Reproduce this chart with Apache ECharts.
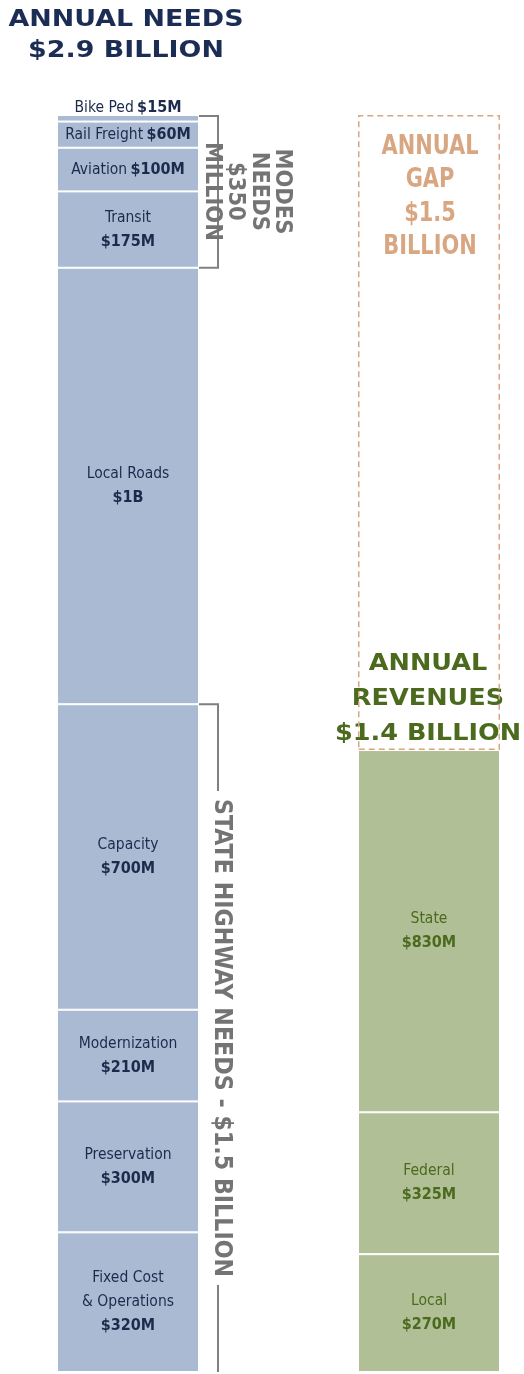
<!DOCTYPE html>
<html>
<head>
<meta charset="utf-8">
<script src="https://cdn.jsdelivr.net/npm/echarts@6/dist/echarts.min.js"></script>
<style>html,body{margin:0;padding:0;background:#fff}#main{width:524px;height:1374px}</style>
</head>
<body>
<div id="main"></div>
<script>
var myChart = echarts.init(document.getElementById('main'));

// needs, stacked bottom to top
const needsNames = ['Fixed Cost\n& Operations', 'Preservation', 'Modernization', 'Capacity', 'Local Roads', 'Transit', 'Aviation', 'Rail Freight', 'Bike Ped'];
const needsValues = [320, 300, 210, 700, 1000, 175, 100, 60, 15];
const needsLabels = ['$320M', '$300M', '$210M', '$700M', '$1B', '$175M', '$100M', '$60M', '$15M'];

// revenues, stacked bottom to top
const revenueNames = ['Local', 'Federal', 'State'];
const revenueValues = [270, 325, 830];
const revenueLabels = ['$270M', '$325M', '$830M'];

// bracket groups
const highwayItems = ['Fixed Cost\n& Operations', 'Preservation', 'Modernization', 'Capacity'];
const modeItems = ['Transit', 'Aviation', 'Rail Freight', 'Bike Ped'];

const needsTitle = 'ANNUAL NEEDS\n$2.9 BILLION';
const revenueTitle = 'ANNUAL\nREVENUES\n$1.4 BILLION';
const gapTitle = 'ANNUAL\nGAP\n$1.5\nBILLION';
const modesText = 'MODES\nNEEDS\n$350\nMILLION';
const highwayText = 'STATE HIGHWAY NEEDS - $1.5 BILLION';

const sum = a => a.reduce((s, v) => s + v, 0);
const needsTotal = sum(needsValues);
const gapValue = needsTotal - sum(revenueValues);
const groupSum = items => sum(items.map(n => needsValues[needsNames.indexOf(n)]));

const FONT = '"DejaVu Sans Condensed", "Liberation Sans", sans-serif';
const BLUE = '#abbad3', NAVY = '#1c2b4c';
const GREEN = '#b0bf95', DKGREEN = '#4b6a1d';
const TAN = '#d9a682', GRAY = '#747474';
const BAR_LEFT = 57, BAR_W = 142, REV_LEFT = 358;

function fmt(name, lbl, inline) {
    if (inline) return '{n|' + name + '} {v|' + lbl + '}';
    return name.split('\n').map(s => '{n|' + s + '}').join('\n') + '\n{v|' + lbl + '}';
}
function richFor(color) {
    return {
        n: { fontFamily: FONT, fontSize: 15.5, color: color, lineHeight: 24 },
        v: { fontFamily: FONT, fontSize: 16, fontWeight: 'bold', color: color, lineHeight: 24 }
    };
}

const series = [];
needsValues.forEach((v, i) => {
    const tiny = v < 30;
    series.push({
        type: 'bar', name: needsNames[i], stack: 'needs', xAxisIndex: 0, yAxisIndex: 0,
        barWidth: '100%', data: [v], z: 2,
        itemStyle: { color: BLUE, borderColor: '#fff', borderWidth: 1 },
        label: {
            show: true, position: tiny ? 'top' : 'inside', distance: 0, offset: tiny ? [0, 5] : [0, 0],
            formatter: fmt(needsNames[i], needsLabels[i], v < 150), rich: richFor(NAVY)
        }
    });
});
revenueValues.forEach((v, i) => {
    series.push({
        type: 'bar', name: revenueNames[i], stack: 'rev', xAxisIndex: 1, yAxisIndex: 1,
        barWidth: '100%', data: [v], z: 3,
        itemStyle: { color: GREEN, borderColor: '#fff', borderWidth: 1 },
        label: { show: true, position: 'inside', formatter: fmt(revenueNames[i], revenueLabels[i], false), rich: richFor(DKGREEN) }
    });
});
// the gap: dashed outline on top of revenues
series.push({
    type: 'bar', name: 'Gap', stack: 'rev', xAxisIndex: 1, yAxisIndex: 1,
    barWidth: '100%', data: [gapValue], z: 1,
    itemStyle: { color: 'rgba(0,0,0,0)', borderColor: TAN, borderType: [6, 4], borderWidth: 1.5 },
    label: { show: false }
});

option = {
    animation: false,
    grid: [
        { left: BAR_LEFT, width: BAR_W, top: 115, bottom: 2 },
        { left: REV_LEFT, width: BAR_W, top: 115, bottom: 2 }
    ],
    xAxis: [
        { type: 'category', gridIndex: 0, data: ['needs'], show: false },
        { type: 'category', gridIndex: 1, data: ['revenues'], show: false }
    ],
    yAxis: [
        { type: 'value', gridIndex: 0, min: 0, max: needsTotal, show: false },
        { type: 'value', gridIndex: 1, min: 0, max: needsTotal, show: false }
    ],
    series: series
};
myChart.setOption(option);

// brackets and headings, placed from the axis scale
const yTop = myChart.convertToPixel({ yAxisIndex: 0 }, needsTotal);
const yBot = myChart.convertToPixel({ yAxisIndex: 0 }, 0);
const yModes = myChart.convertToPixel({ yAxisIndex: 0 }, needsTotal - groupSum(modeItems));
const yHwy = myChart.convertToPixel({ yAxisIndex: 0 }, groupSum(highwayItems));
const yRev = myChart.convertToPixel({ yAxisIndex: 1 }, sum(revenueValues));

const ctx = document.createElement('canvas').getContext('2d');
function textWidth(text, font) {
    ctx.font = font;
    return Math.max.apply(null, text.split('\n').map(s => ctx.measureText(s).width));
}
// stretch a heading so its widest line spans the given width
const fit = (text, font, w) => w / textWidth(text, font);

const titleFont = 'bold 23px "DejaVu Sans", sans-serif';
const condFont = size => 'bold ' + size + 'px "DejaVu Sans Condensed", "Liberation Sans", sans-serif';
const gapFont = condFont(27);
const modesFont = condFont(23);
const hwyFont = condFont(25);
const barRight = BAR_LEFT + BAR_W;
const bx = barRight + 19;
const hwyLen = 478;
const hwyMid = (yHwy + yBot) / 2;
const lineStyle = { stroke: '#808080', lineWidth: 2, fill: null };

myChart.setOption({
    graphic: [
        {
            type: 'text', x: 126, y: 36, scaleX: fit(needsTitle, titleFont, 235),
            style: { text: needsTitle, font: titleFont, fill: '#1b2c55', align: 'center', verticalAlign: 'middle', lineHeight: 31 }
        },
        {
            type: 'text', x: 428, y: yRev - 51, scaleX: fit(revenueTitle, titleFont, 186),
            style: { text: revenueTitle, font: titleFont, fill: DKGREEN, align: 'center', verticalAlign: 'middle', lineHeight: 35 }
        },
        {
            type: 'text', x: 430, y: yTop + 82, scaleX: fit(gapTitle, gapFont, 97),
            style: { text: gapTitle, font: gapFont, fill: TAN, align: 'center', verticalAlign: 'middle', lineHeight: 33.5 }
        },
        {
            type: 'polyline', shape: { points: [[barRight, yTop + 1], [bx, yTop + 1], [bx, yModes], [barRight, yModes]] }, style: lineStyle
        },
        {
            type: 'text', x: 247, y: (yTop + yModes) / 2, rotation: -Math.PI / 2, scaleX: fit(modesText, modesFont, 99),
            style: { text: modesText, font: modesFont, fill: GRAY, align: 'center', verticalAlign: 'middle', lineHeight: 23.5 }
        },
        {
            type: 'polyline', shape: { points: [[barRight, yHwy], [bx, yHwy], [bx, hwyMid - hwyLen / 2 - 8]] }, style: lineStyle
        },
        {
            type: 'polyline', shape: { points: [[bx, hwyMid + hwyLen / 2 + 8], [bx, yBot]] }, style: lineStyle
        },
        {
            type: 'text', x: bx + 3, y: hwyMid, rotation: -Math.PI / 2, scaleX: fit(highwayText, hwyFont, hwyLen),
            style: { text: highwayText, font: hwyFont, fill: GRAY, align: 'center', verticalAlign: 'middle' }
        }
    ]
});
</script>
</body>
</html>
